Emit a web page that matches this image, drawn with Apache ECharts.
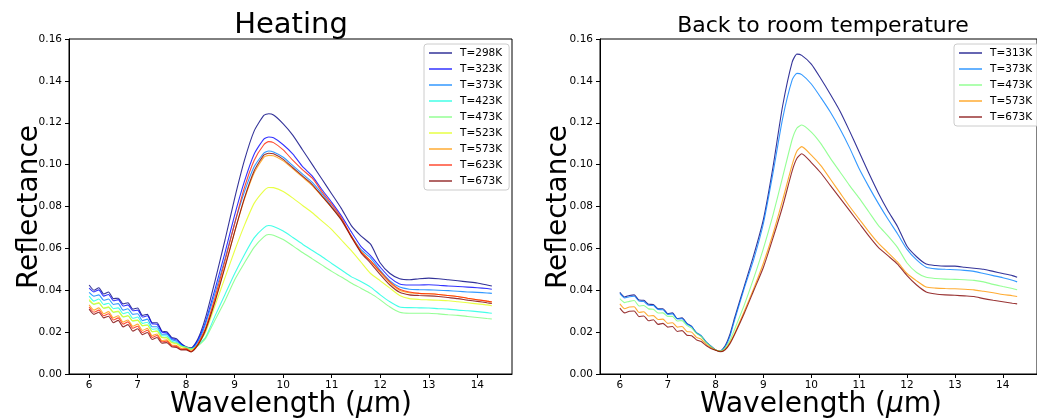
<!DOCTYPE html>
<html>
<head>
<meta charset="utf-8">
<script src="https://cdn.jsdelivr.net/npm/echarts@6/dist/echarts.min.js"></script>
<style>html,body{margin:0;padding:0;background:#fff}#c{width:1037px;height:420px}</style>
</head>
<body>
<div id="c"></div>
<script>
// Wavelength grid (µm)
const WL = [6.0,6.1,6.2,6.3,6.4,6.5,6.6,6.7,6.8,6.9,7.0,7.1,7.2,7.3,7.4,7.5,7.6,7.7,7.8,7.9,
  8.0,8.1,8.2,8.3,8.4,8.6,8.8,9.0,9.2,9.4,9.6,9.7,9.8,10.0,10.2,10.4,10.6,10.8,11.0,11.2,11.4,11.6,11.8,12.0,
  12.2,12.4,12.6,12.8,13.0,13.2,13.4,13.6,13.8,14.0,14.2,14.3];

// Heating
const H298 = [0.0425,0.040,0.0412,0.0382,0.0392,0.036,0.0362,0.0335,0.034,0.031,0.0315,0.028,0.0285,0.0245,0.0245,0.0205,0.0202,0.0175,0.0168,0.0145,
  0.013,0.0125,0.015,0.020,0.027,0.045,0.064,0.084,0.102,0.116,0.1235,0.1243,0.1237,0.1195,0.114,0.107,0.100,0.093,0.086,0.079,0.071,0.066,0.062,0.053,
  0.048,0.0455,0.045,0.0455,0.0458,0.0455,0.045,0.0445,0.044,0.0435,0.0425,0.042];
const H323 = [0.041,0.0392,0.0402,0.0372,0.038,0.035,0.0355,0.0325,0.033,0.0302,0.0305,0.0272,0.0278,0.024,0.0238,0.020,0.0196,0.017,0.0163,0.0142,
  0.0125,0.012,0.0145,0.019,0.025,0.041,0.058,0.076,0.092,0.105,0.1122,0.1132,0.1128,0.1095,0.105,0.099,0.0945,0.088,0.082,0.0755,0.068,0.061,0.0565,0.051,
  0.046,0.043,0.0425,0.0425,0.0426,0.0424,0.042,0.0418,0.0415,0.0412,0.0408,0.0405];
const H373 = [0.039,0.0372,0.0378,0.0352,0.0358,0.0332,0.0336,0.0305,0.0312,0.0285,0.0288,0.0255,0.0262,0.0226,0.0226,0.019,0.019,0.0165,0.0157,0.0138,
  0.0125,0.0118,0.014,0.018,0.024,0.039,0.055,0.072,0.087,0.099,0.1055,0.1065,0.106,0.1035,0.0995,0.0955,0.0915,0.086,0.080,0.074,0.066,0.0595,0.0555,0.0495,
  0.0445,0.0415,0.0405,0.0403,0.0402,0.040,0.0398,0.0395,0.0392,0.039,0.0387,0.0385];
const H423 = [0.0372,0.0348,0.0358,0.0332,0.0338,0.0312,0.0316,0.0288,0.0295,0.0266,0.0272,0.0242,0.0247,0.0214,0.0216,0.0183,0.0182,0.0157,0.015,0.0135,
  0.0128,0.012,0.013,0.015,0.0175,0.028,0.038,0.048,0.057,0.065,0.0698,0.0709,0.0705,0.0683,0.0652,0.062,0.059,0.056,0.0528,0.0497,0.0465,0.0442,0.0415,0.0378,
  0.0345,0.032,0.0317,0.0316,0.0315,0.0312,0.031,0.0305,0.0302,0.0298,0.0293,0.029];
const H473 = [0.035,0.0332,0.0338,0.0314,0.0318,0.0294,0.0298,0.0272,0.0278,0.0252,0.0256,0.023,0.0234,0.0202,0.0206,0.0175,0.0174,0.0152,0.0147,0.0133,
  0.0128,0.012,0.0128,0.0145,0.017,0.026,0.035,0.045,0.053,0.0605,0.0655,0.0666,0.0663,0.0642,0.0612,0.058,0.055,0.052,0.049,0.0463,0.0435,0.041,0.0385,0.0354,
  0.032,0.0295,0.029,0.029,0.029,0.0287,0.0283,0.028,0.0275,0.027,0.0265,0.0263];
const H523 = [0.0355,0.0334,0.0341,0.0314,0.0321,0.0296,0.0301,0.0274,0.0278,0.0254,0.0258,0.0231,0.0234,0.0202,0.0204,0.0173,0.0172,0.0149,0.0144,0.013,
  0.0123,0.0115,0.013,0.016,0.020,0.033,0.046,0.059,0.071,0.0815,0.0875,0.0891,0.089,0.0872,0.084,0.0805,0.077,0.073,0.069,0.064,0.059,0.0535,0.048,0.0445,
  0.041,0.0375,0.036,0.0356,0.0354,0.0352,0.035,0.0345,0.034,0.0335,0.033,0.0326];
const H573 = [0.033,0.0305,0.0316,0.0288,0.0298,0.0268,0.0278,0.0248,0.0258,0.0228,0.0238,0.0208,0.0218,0.0183,0.0191,0.0159,0.0163,0.0139,0.0136,0.0122,
  0.0118,0.0107,0.0128,0.0165,0.0215,0.0355,0.0515,0.068,0.0835,0.096,0.1035,0.1044,0.1042,0.1018,0.098,0.094,0.090,0.0848,0.0795,0.0738,0.066,0.0588,0.054,0.0485,
  0.0435,0.040,0.0388,0.0385,0.0383,0.038,0.0375,0.037,0.0362,0.0355,0.0348,0.0343];
const H623 = [0.032,0.0295,0.0305,0.0278,0.0288,0.0258,0.0268,0.0238,0.0249,0.0218,0.0228,0.0198,0.0209,0.0175,0.0184,0.0154,0.0157,0.0135,0.0132,0.0118,
  0.012,0.0108,0.013,0.017,0.022,0.037,0.054,0.072,0.089,0.102,0.1095,0.111,0.1105,0.107,0.102,0.0975,0.0935,0.087,0.081,0.0745,0.066,0.0585,0.054,0.049,
  0.044,0.0405,0.0392,0.0385,0.0383,0.038,0.0375,0.037,0.0362,0.0355,0.0348,0.0345];
const H673 = [0.031,0.0285,0.0295,0.0268,0.0276,0.0245,0.0256,0.0225,0.0236,0.0205,0.0216,0.0188,0.0198,0.0165,0.0174,0.0147,0.015,0.013,0.0127,0.0115,
  0.0115,0.0105,0.0125,0.016,0.021,0.035,0.051,0.068,0.084,0.097,0.1045,0.1054,0.1052,0.1025,0.0985,0.0945,0.0905,0.085,0.0795,0.0735,0.0655,0.058,0.053,0.0475,
  0.0425,0.039,0.0378,0.0375,0.0373,0.037,0.0365,0.036,0.0353,0.0347,0.034,0.0337];

// Back to room temperature
const R313 = [0.039,0.0368,0.0375,0.0378,0.0353,0.0352,0.0333,0.0332,0.0311,0.0312,0.0288,0.0292,0.0265,0.0268,0.0242,0.0227,0.0196,0.0181,0.0153,0.0133,
  0.0115,0.011,0.0135,0.019,0.027,0.042,0.057,0.074,0.099,0.128,0.149,0.1528,0.1522,0.148,0.141,0.1335,0.1255,0.116,0.106,0.096,0.0865,0.078,0.0705,0.061,
  0.056,0.0525,0.0518,0.0515,0.0515,0.051,0.0505,0.050,0.049,0.048,0.047,0.0462];
const R373 = [0.0385,0.0363,0.0369,0.0371,0.0348,0.0346,0.0328,0.0327,0.0308,0.0307,0.0285,0.0287,0.0263,0.0264,0.0239,0.0226,0.0198,0.0183,0.0154,0.0134,
  0.0115,0.011,0.013,0.018,0.026,0.041,0.055,0.072,0.096,0.122,0.1405,0.1436,0.143,0.1385,0.132,0.125,0.117,0.108,0.098,0.0895,0.0815,0.074,0.067,0.0595,
  0.0545,0.051,0.0502,0.050,0.0498,0.0495,0.049,0.048,0.047,0.046,0.0448,0.044];
const R473 = [0.036,0.0341,0.0347,0.0351,0.0325,0.0327,0.0311,0.0309,0.0291,0.0292,0.0275,0.0275,0.0253,0.0255,0.0232,0.0219,0.0194,0.0179,0.0151,0.0132,
  0.0115,0.011,0.0125,0.016,0.0215,0.033,0.046,0.060,0.076,0.094,0.112,0.1175,0.1189,0.1155,0.110,0.103,0.0965,0.090,0.084,0.0775,0.071,0.066,0.0605,0.053,
  0.0485,0.0462,0.0456,0.0453,0.0452,0.045,0.0447,0.044,0.0428,0.0418,0.0408,0.0402];
const R573 = [0.0335,0.0312,0.032,0.0321,0.0294,0.0297,0.0277,0.0279,0.026,0.0262,0.0242,0.0245,0.0224,0.0227,0.0203,0.020,0.0175,0.0166,0.0143,0.0127,
  0.0115,0.0108,0.0118,0.015,0.0195,0.030,0.041,0.053,0.067,0.083,0.100,0.1065,0.1086,0.1045,0.0995,0.093,0.0865,0.080,0.074,0.068,0.0625,0.058,0.0535,0.048,
  0.0445,0.0415,0.041,0.0408,0.0407,0.0405,0.0402,0.0395,0.0388,0.038,0.0374,0.037];
const R673 = [0.0315,0.0292,0.030,0.0301,0.0274,0.0277,0.0254,0.0259,0.0237,0.0242,0.0224,0.0227,0.0203,0.0207,0.0185,0.0183,0.0163,0.0155,0.0136,0.0122,
  0.0113,0.0106,0.0116,0.0145,0.019,0.029,0.040,0.051,0.065,0.080,0.097,0.103,0.1052,0.101,0.096,0.090,0.084,0.078,0.072,0.066,0.0605,0.0565,0.0525,0.047,
  0.0425,0.0392,0.0382,0.0378,0.0376,0.0373,0.037,0.036,0.0352,0.0345,0.0338,0.0335];

const LEFT_NAMES = ['T=298K','T=323K','T=373K','T=423K','T=473K','T=523K','T=573K','T=623K','T=673K'];
const LEFT_DATA = [H298,H323,H373,H423,H473,H523,H573,H623,H673];
const RIGHT_NAMES = ['T=313K','T=373K','T=473K','T=573K','T=673K'];
const RIGHT_DATA = [R313,R373,R473,R573,R673];
const X_TICKS = [6,7,8,9,10,11,12,13,14];

const LEFT_COLORS = ['rgba(0,0,128,0.8)','rgba(0,0,255,0.8)','rgba(0,128,255,0.8)','rgba(21,255,226,0.8)','rgba(123,255,123,0.8)',
  'rgba(226,255,21,0.8)','rgba(255,151,0,0.8)','rgba(255,33,0,0.8)','rgba(128,0,0,0.8)'];
const RIGHT_COLORS = ['rgba(0,0,128,0.8)','rgba(0,128,255,0.8)','rgba(123,255,123,0.8)','rgba(255,151,0,0.8)','rgba(128,0,0,0.8)'];

const FONT = 'DejaVu Sans';
const chart = echarts.init(document.getElementById('c'), null, {renderer:'canvas'});

function xAxisCfg(idx){
  return {gridIndex: idx, type:'value', min:5.585, max:14.715,
    axisLine:{show:true, onZero:false, lineStyle:{color:'#000', width:1}},
    axisTick:{show:true, length:4, lineStyle:{color:'#000'}, customValues: X_TICKS},
    axisLabel:{color:'#000', fontSize:10.5, fontFamily:FONT, margin:6, customValues: X_TICKS},
    splitLine:{show:false}};
}
function yAxisCfg(idx){
  return {gridIndex: idx, type:'value', min:0, max:0.16, interval:0.02,
    axisLine:{show:true, lineStyle:{color:'#000', width:1}},
    axisTick:{show:true, length:4, lineStyle:{color:'#000'}},
    axisLabel:{color:'#000', fontSize:10.5, fontFamily:FONT, margin:7, formatter: v => v.toFixed(2)},
    splitLine:{show:false}};
}
function legendCfg(names, left){
  return {orient:'vertical', left:left, top:44, data:names, icon:'rect', itemWidth:23, itemHeight:1.5, itemGap:4,
    textStyle:{fontSize:10.5, fontFamily:FONT, color:'#000', lineHeight:12, padding:[0,0,0,3]},
    backgroundColor:'rgba(255,255,255,0.8)', borderColor:'#ccc', borderWidth:1, borderRadius:3,
    padding:[3,7,3,5], selectedMode:false};
}

const series = [];
LEFT_DATA.forEach((arr, i) => series.push({
  type:'line', name: LEFT_NAMES[i], xAxisIndex:0, yAxisIndex:0, showSymbol:false, smooth:0.2,
  data: WL.map((x, j) => [x, arr[j]]),
  lineStyle:{width:1.1, color: LEFT_COLORS[i]}, itemStyle:{color: LEFT_COLORS[i]}, emphasis:{disabled:true}
}));
RIGHT_DATA.forEach((arr, i) => series.push({
  type:'line', name: RIGHT_NAMES[i], xAxisIndex:1, yAxisIndex:1, showSymbol:false, smooth:0.2,
  data: WL.map((x, j) => [x, arr[j]]),
  lineStyle:{width:1.1, color: RIGHT_COLORS[i]}, itemStyle:{color: RIGHT_COLORS[i]}, emphasis:{disabled:true}
}));

chart.setOption({
  animation:false,
  backgroundColor:'#fff',
  grid:[
    {left:69, top:39, width:443, height:335, show:true, borderColor:'#000', borderWidth:1, containLabel:false},
    {left:600, top:39, width:439, height:335, show:true, borderColor:'#000', borderWidth:1, containLabel:false}
  ],
  xAxis:[xAxisCfg(0), xAxisCfg(1)],
  yAxis:[yAxisCfg(0), yAxisCfg(1)],
  legend:[legendCfg(LEFT_NAMES, 424), legendCfg(RIGHT_NAMES, 954)],
  graphic:[
    {type:'text', x:291, y:25, style:{text:'Heating', font:'29px "DejaVu Sans"', fill:'#000', align:'center', verticalAlign:'middle'}},
    {type:'text', x:823, y:26, style:{text:'Back to room temperature', font:'22px "DejaVu Sans"', fill:'#000', align:'center', verticalAlign:'middle'}},
    {type:'text', x:30, y:207, rotation:Math.PI/2, style:{text:'Reflectance', font:'28px "DejaVu Sans"', fill:'#000', align:'center', verticalAlign:'middle'}},
    {type:'text', x:559, y:207, rotation:Math.PI/2, style:{text:'Reflectance', font:'28px "DejaVu Sans"', fill:'#000', align:'center', verticalAlign:'middle'}},
    {type:'text', x:291, y:405, style:{text:'Wavelength ({i|μ}m)', font:'28px "DejaVu Sans"', fill:'#000', align:'center', verticalAlign:'middle',
      rich:{i:{fontStyle:'italic', fontSize:28, fontFamily:FONT}}}},
    {type:'text', x:821, y:405, style:{text:'Wavelength ({i|μ}m)', font:'28px "DejaVu Sans"', fill:'#000', align:'center', verticalAlign:'middle',
      rich:{i:{fontStyle:'italic', fontSize:28, fontFamily:FONT}}}}
  ],
  series: series
});
</script>
</body>
</html>
